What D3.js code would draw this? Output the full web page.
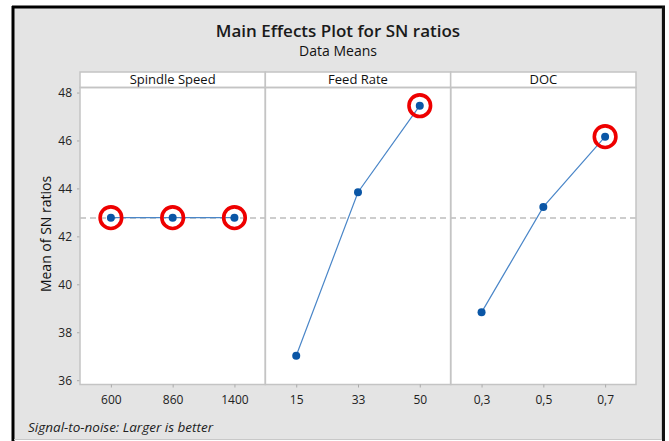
<!DOCTYPE html>
<html><head><meta charset="utf-8">
<script src="https://cdn.jsdelivr.net/npm/d3@7"></script>
<style>body{margin:0;background:#fff}svg{display:block;font-family:"Open Sans","Noto Sans",sans-serif}</style>
</head><body><svg id="c" width="669" height="441"></svg>
<script>
const factors = ["Spindle Speed", "Feed Rate", "DOC"];
const spindleLevels = ["600", "860", "1400"];
const spindleMeans = [42.78, 42.78, 42.78];
const feedLevels = ["15", "33", "50"];
const feedMeans = [37.02, 43.84, 47.45];
const docLevels = ["0,3", "0,5", "0,7"];
const docMeans = [38.83, 43.23, 46.16];
const highlighted = [[true, true, true], [false, false, true], [false, false, true]];
const grandMean = 42.77;
const yTicks = [36, 38, 40, 42, 44, 46, 48];

const panels = [
  {name: factors[0], levels: spindleLevels, means: spindleMeans, hl: highlighted[0]},
  {name: factors[1], levels: feedLevels, means: feedMeans, hl: highlighted[1]},
  {name: factors[2], levels: docLevels, means: docMeans, hl: highlighted[2]}
];

const svg = d3.select("#c");
// frame
svg.append("rect").attr("x", 13).attr("y", 7).attr("width", 650).attr("height", 432).attr("fill", "#e4e4e4");
svg.append("line").attr("x1", 13).attr("x2", 13).attr("y1", 6).attr("y2", 441).attr("stroke", "#000").attr("stroke-width", 3);
svg.append("line").attr("x1", 12).attr("x2", 665).attr("y1", 7).attr("y2", 7).attr("stroke", "#000").attr("stroke-width", 3);
svg.append("line").attr("x1", 663.5).attr("x2", 663.5).attr("y1", 6).attr("y2", 441).attr("stroke", "#111").attr("stroke-width", 3);
svg.append("line").attr("x1", 14).attr("x2", 662).attr("y1", 439.5).attr("y2", 439.5).attr("stroke", "#c8c8c8").attr("stroke-width", 1);
svg.append("line").attr("x1", 661.5).attr("x2", 661.5).attr("y1", 9).attr("y2", 439).attr("stroke", "#c8c8c8").attr("stroke-width", 1);

// titles
svg.append("text").attr("x", 338).attr("y", 37).attr("text-anchor", "middle").attr("font-size", 17).attr("font-weight", 600).attr("fill", "#1a1a1a").text("Main Effects Plot for SN ratios");
svg.append("text").attr("x", 338).attr("y", 56).attr("text-anchor", "middle").attr("font-size", 14).attr("fill", "#111").text("Data Means");

const left = 80, right = 636, hTop = 72, hBot = 87.5, bottom = 384.5;
const y = d3.scaleLinear().domain([35.82, 48.21]).range([bottom, hBot]);
const pw = (right - left) / panels.length;
const outer = d3.scaleBand().domain(factors).range([left, right]);

// white plot background
svg.append("rect").attr("x", left).attr("y", hTop).attr("width", right - left).attr("height", bottom - hTop).attr("fill", "#fff");

// dashed reference line
svg.append("line").attr("x1", left).attr("x2", right).attr("y1", y(grandMean)).attr("y2", y(grandMean))
  .attr("stroke", "#bdbdbd").attr("stroke-width", 1.5).attr("stroke-dasharray", "6,4");

// y axis
const yAxis = svg.append("g").attr("transform", `translate(${left},0)`)
  .call(d3.axisLeft(y).tickValues(yTicks).tickSize(3).tickPadding(5));
yAxis.select(".domain").remove();
yAxis.selectAll("line").attr("stroke", "#aaa");
yAxis.selectAll("text").attr("font-size", 12).attr("fill", "#222").attr("font-family", "'Open Sans','Noto Sans',sans-serif");

svg.append("text").attr("transform", `translate(51,${(hBot + bottom) / 2 - 2}) rotate(-90)`).attr("text-anchor", "middle")
  .attr("font-size", 14).attr("fill", "#111").text("Mean of SN ratios");

panels.forEach((p, i) => {
  const x0 = outer(p.name);
  const x = d3.scalePoint().domain(p.levels).range([x0, x0 + pw]).padding(0.5);
  // header
  svg.append("rect").attr("x", x0).attr("y", hTop).attr("width", pw).attr("height", hBot - hTop)
    .attr("fill", "#fff").attr("stroke", "#c4c4c4").attr("stroke-width", 1.5);
  svg.append("text").attr("x", x0 + pw / 2).attr("y", hTop + 12).attr("text-anchor", "middle")
    .attr("font-size", 13).attr("fill", "#111").text(p.name);
  // panel frame
  svg.append("rect").attr("x", x0).attr("y", hBot).attr("width", pw).attr("height", bottom - hBot)
    .attr("fill", "none").attr("stroke", "#c4c4c4").attr("stroke-width", 1.5);
  // x axis
  const xa = svg.append("g").attr("transform", `translate(0,${bottom})`)
    .call(d3.axisBottom(x).tickSize(3).tickPadding(8));
  xa.select(".domain").remove();
  xa.selectAll("line").attr("stroke", "#aaa");
  xa.selectAll("text").attr("font-size", 12).attr("fill", "#222").attr("font-family", "'Open Sans','Noto Sans',sans-serif");
  const pts = p.levels.map((l, j) => ({l, v: p.means[j], h: p.hl[j]}));
  svg.append("path").datum(pts).attr("fill", "none").attr("stroke", "#4a86c8").attr("stroke-width", 1.2)
    .attr("d", d3.line().x(d => x(d.l)).y(d => y(d.v)));
  svg.selectAll(null).data(pts).enter().append("circle")
    .attr("cx", d => x(d.l)).attr("cy", d => y(d.v)).attr("r", 4).attr("fill", "#0a56a6");
  svg.selectAll(null).data(pts.filter(d => d.h)).enter().append("circle")
    .attr("cx", d => x(d.l)).attr("cy", d => y(d.v)).attr("r", 10.8).attr("fill", "none")
    .attr("stroke", "#ee0000").attr("stroke-width", 3.6);
});

svg.append("text").attr("x", 28).attr("y", 431.5).attr("font-size", 13.5).attr("font-style", "italic").attr("fill", "#222")
  .text("Signal-to-noise: Larger is better");
</script></body></html>
